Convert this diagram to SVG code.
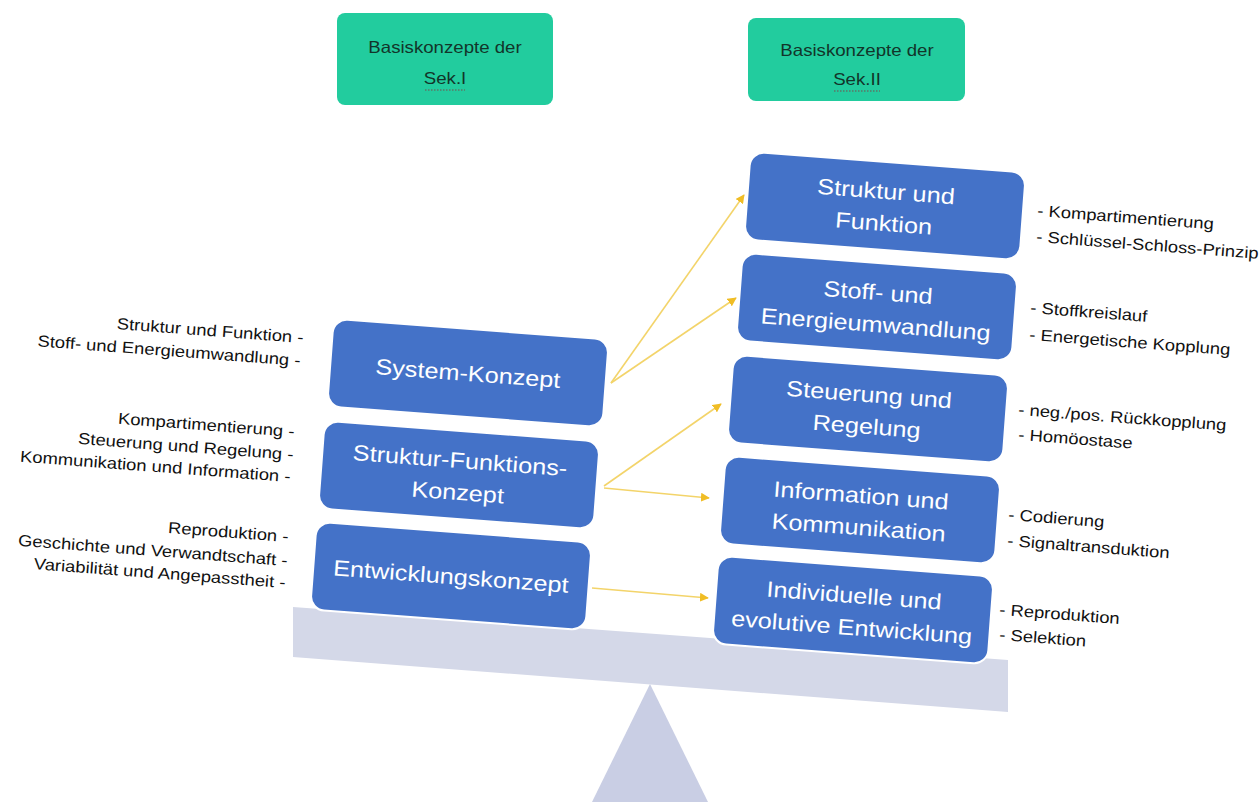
<svg xmlns="http://www.w3.org/2000/svg" width="1260" height="802" viewBox="0 0 1260 802">
<defs>
<style>
.bg{fill:#ffffff}
.beam{fill:#d4d8e8}
.foot{fill:#c9cee4}
.green{fill:#22cc9e}
.gt{font-family:"Liberation Sans",Arial,sans-serif;font-size:16.5px;fill:#12352a;text-anchor:middle}
.blue{fill:#4472c8;stroke:#ffffff;stroke-width:2}
.bt{font-family:"Liberation Sans",Arial,sans-serif;font-size:22px;fill:#ffffff;text-anchor:middle}
.ann{font-family:"Liberation Sans",Arial,sans-serif;font-size:16px;fill:#111111}
.annl{font-family:"Liberation Sans",Arial,sans-serif;font-size:16px;fill:#111111;text-anchor:end}
.conn{stroke:#f3d46a;stroke-width:1.6;fill:none}
</style>
<marker id="ah" viewBox="0 0 10 10" refX="9" refY="5" markerWidth="9" markerHeight="9" markerUnits="userSpaceOnUse" orient="auto">
<path d="M0,0 L10,5 L0,10 z" fill="#f0bd25"/>
</marker>
</defs>
<rect class="bg" x="0" y="0" width="1260" height="802"/>

<g id="scale">
<polygon class="foot" points="650,684 592,802 708,802"/>
<polygon class="beam" points="293,607 1008,660 1008,712 293,657"/>
</g>

<g id="sek1-header">
<rect class="green" x="337" y="13" width="216" height="92" rx="8"/>
<text class="gt" transform="translate(445,53) scale(1.13,1)">Basiskonzepte der</text>
<text class="gt" transform="translate(445,84) scale(1.13,1)">Sek.I</text>
<line x1="425" y1="90" x2="465" y2="90" stroke="#7a4a4a" stroke-width="1" stroke-dasharray="1.5,1.5"/>
</g>
<g id="sek2-header">
<rect class="green" x="748" y="18" width="217" height="83" rx="8"/>
<text class="gt" transform="translate(857,56) scale(1.13,1)">Basiskonzepte der</text>
<text class="gt" transform="translate(857,85) scale(1.13,1)">Sek.II</text>
<line x1="834" y1="91" x2="880" y2="91" stroke="#7a4a4a" stroke-width="1" stroke-dasharray="1.5,1.5"/>
</g>

<g id="connectors">
<line class="conn" x1="611" y1="383" x2="744" y2="195" marker-end="url(#ah)"/>
<line class="conn" x1="611" y1="383" x2="736" y2="298" marker-end="url(#ah)"/>
<line class="conn" x1="604" y1="486" x2="721" y2="404" marker-end="url(#ah)"/>
<line class="conn" x1="604" y1="488" x2="709" y2="498" marker-end="url(#ah)"/>
<line class="conn" x1="592" y1="588" x2="708" y2="598" marker-end="url(#ah)"/>
</g>

<g id="system-konzept" transform="rotate(4.3 468 373)">
<rect class="blue" x="330" y="329" width="276" height="88" rx="14"/>
<text class="bt" transform="translate(468,381) scale(1.15,1)">System-Konzept</text>
</g>
<g id="struktur-funktions-konzept" transform="rotate(4.3 459 475)">
<rect class="blue" x="321" y="431" width="276" height="88" rx="14"/>
<text class="bt" transform="translate(459,468) scale(1.15,1)">Struktur-Funktions-</text>
<text class="bt" transform="translate(459,500) scale(1.15,1)">Konzept</text>
</g>
<g id="entwicklungskonzept" transform="rotate(4.3 451 576)">
<rect class="blue" x="313" y="532" width="276" height="88" rx="14"/>
<text class="bt" transform="translate(451,584) scale(1.15,1)">Entwicklungskonzept</text>
</g>

<g id="struktur-und-funktion" transform="rotate(4.3 885 206)">
<rect class="blue" x="747" y="162" width="276" height="88" rx="14"/>
<text class="bt" transform="translate(885,199) scale(1.15,1)">Struktur und</text>
<text class="bt" transform="translate(885,231) scale(1.15,1)">Funktion</text>
</g>
<g id="stoff-und-energieumwandlung" transform="rotate(4.3 877 307)">
<rect class="blue" x="739" y="263" width="276" height="88" rx="14"/>
<text class="bt" transform="translate(877,300) scale(1.15,1)">Stoff- und</text>
<text class="bt" transform="translate(877,332) scale(1.15,1)">Energieumwandlung</text>
</g>
<g id="steuerung-und-regelung" transform="rotate(4.3 868 409)">
<rect class="blue" x="730" y="365" width="276" height="88" rx="14"/>
<text class="bt" transform="translate(868,402) scale(1.15,1)">Steuerung und</text>
<text class="bt" transform="translate(868,434) scale(1.15,1)">Regelung</text>
</g>
<g id="information-und-kommunikation" transform="rotate(4.3 860 510)">
<rect class="blue" x="722" y="466" width="276" height="88" rx="14"/>
<text class="bt" transform="translate(860,503) scale(1.15,1)">Information und</text>
<text class="bt" transform="translate(860,535) scale(1.15,1)">Kommunikation</text>
</g>
<g id="individuelle-und-evolutive-entwicklung" transform="rotate(4.3 853 610)">
<rect class="blue" x="715" y="566" width="276" height="88" rx="14"/>
<text class="bt" transform="translate(853,603) scale(1.15,1)">Individuelle und</text>
<text class="bt" transform="translate(853,635) scale(1.15,1)">evolutive Entwicklung</text>
</g>

<g id="annotations-left">
<text class="annl" transform="translate(303,343) rotate(4.3) scale(1.15,1)">Struktur und Funktion -</text>
<text class="annl" transform="translate(300,366) rotate(4.3) scale(1.15,1)">Stoff- und Energieumwandlung -</text>
<text class="annl" transform="translate(294,437) rotate(4.3) scale(1.15,1)">Kompartimentierung -</text>
<text class="annl" transform="translate(293,460) rotate(4.3) scale(1.15,1)">Steuerung und Regelung -</text>
<text class="annl" transform="translate(290,482) rotate(4.3) scale(1.15,1)">Kommunikation und Information -</text>
<text class="annl" transform="translate(288,542) rotate(4.3) scale(1.15,1)">Reproduktion -</text>
<text class="annl" transform="translate(287,566) rotate(4.3) scale(1.15,1)">Geschichte und Verwandtschaft -</text>
<text class="annl" transform="translate(285,588) rotate(4.3) scale(1.15,1)">Variabilität und Angepasstheit -</text>
</g>

<g id="annotations-right">
<text class="ann" transform="translate(1037,216) rotate(4.3) scale(1.15,1)">- Kompartimentierung</text>
<text class="ann" transform="translate(1036,242) rotate(4.3) scale(1.15,1)">- Schlüssel-Schloss-Prinzip</text>
<text class="ann" transform="translate(1030,313) rotate(4.3) scale(1.15,1)">- Stoffkreislauf</text>
<text class="ann" transform="translate(1029,340) rotate(4.3) scale(1.15,1)">- Energetische Kopplung</text>
<text class="ann" transform="translate(1018,415) rotate(4.3) scale(1.15,1)">- neg./pos. Rückkopplung</text>
<text class="ann" transform="translate(1018,440) rotate(4.3) scale(1.15,1)">- Homöostase</text>
<text class="ann" transform="translate(1008,520) rotate(4.3) scale(1.15,1)">- Codierung</text>
<text class="ann" transform="translate(1007,546) rotate(4.3) scale(1.15,1)">- Signaltransduktion</text>
<text class="ann" transform="translate(999,615) rotate(4.3) scale(1.15,1)">- Reproduktion</text>
<text class="ann" transform="translate(999,640) rotate(4.3) scale(1.15,1)">- Selektion</text>
</g>
</svg>
